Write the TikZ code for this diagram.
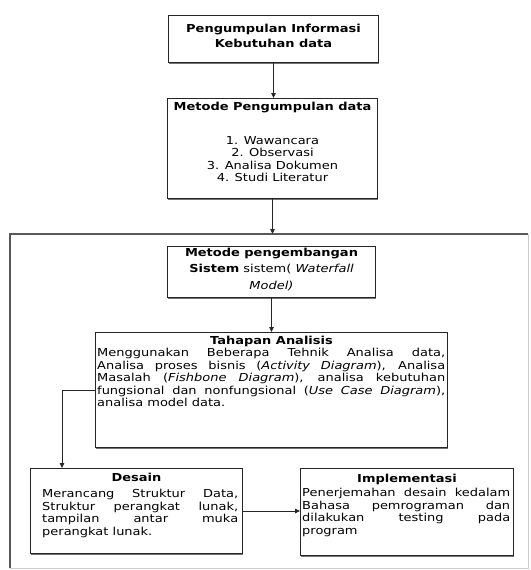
\documentclass[tikz,border=0pt]{standalone}
\usepackage{fontspec}
\setmainfont[FakeStretch=1.18]{DejaVu Sans}
\usetikzlibrary{arrows.meta,shadows}
\setlength\parindent{0pt}

\tikzset{
  box/.style={draw=black!85, line width=1pt, fill=white, inner sep=0pt,
    drop shadow={shadow xshift=0.4pt, shadow yshift=-1.6pt, fill=black!55, opacity=1}},
  txt/.style={inner sep=0pt, font=\fontsize{11}{12.5}\selectfont},
  arr/.style={draw=black!85, line width=0.8pt, -{Triangle[length=5pt,width=4.5pt]}},
  frameline/.style={draw=black!65, line width=1.6pt},
}

\begin{document}
\begin{tikzpicture}[x=1pt,y=-1pt]
\useasboundingbox (0,0) rectangle (530,570);
\clip (0,0) rectangle (530,570);

% outer frame around the development stage
\node[inner sep=0pt, minimum width=518pt, minimum height=334pt, anchor=north west] (frame) at (10,234) {};
\draw[frameline] (frame.south west) -- (frame.north west) -- (frame.north east);
\draw[draw=black!20, line width=0.8pt] (frame.north east) -- (frame.south east) -- (frame.south west);

% boxes
\node[box, minimum width=210pt, minimum height=47pt, anchor=north west] (b1) at (168,15) {};
\node[box, minimum width=210pt, minimum height=100pt, anchor=north west] (b2) at (167,98) {};
\node[box, minimum width=208pt, minimum height=51pt, anchor=north west] (b3) at (167,246) {};
\node[box, minimum width=352pt, minimum height=115pt, anchor=north west] (b4) at (95,332) {};
\node[box, minimum width=212pt, minimum height=85pt, anchor=north west] (desain) at (30,468) {};
\node[box, minimum width=213pt, minimum height=87pt, anchor=north west] (impl) at (300,468) {};

% texts
\node[txt, anchor=north, align=center, font=\fontsize{11}{15}\selectfont\bfseries] (t1) at ([yshift=-8.5pt]b1.north)
  {Pengumpulan Informasi\\Kebutuhan data};

\node[txt, anchor=north, font=\fontsize{11}{12.5}\selectfont\bfseries] (t2) at ([yshift=-4pt]b2.north)
  {Metode Pengumpulan data};
\node[txt, anchor=north, align=center] (t2b) at ([yshift=-38pt]b2.north)
  {1. Wawancara\\2. Observasi\\3. Analisa Dokumen\\4. Studi Literatur};

\node[txt, anchor=north, align=center, font=\fontsize{11}{16.5}\selectfont] (t3) at ([yshift=-1.5pt]b3.north)
  {\textbf{Metode pengembangan}\\\textbf{Sistem} sistem( \textit{Waterfall}\\\textit{Model)}};

\node[txt, anchor=north, font=\fontsize{11}{12.5}\selectfont\bfseries] (t4) at ([yshift=-3.5pt]b4.north)
  {Tahapan Analisis};
\node[txt, anchor=north west, text width=348pt, align=justify] (t4b) at ([xshift=2pt,yshift=-16pt]b4.north west)
  {Menggunakan Beberapa Tehnik Analisa data,\linebreak
   Analisa proses bisnis (\textit{Activity Diagram}), Analisa\linebreak
   Masalah (\textit{Fishbone Diagram}), analisa kebutuhan\linebreak
   fungsional dan nonfungsional (\textit{Use Case Diagram}),\linebreak
   analisa model data.};

\node[txt, anchor=north, font=\fontsize{11}{12.5}\selectfont\bfseries] (t5) at ([yshift=-5pt]desain.north)
  {Desain};
\node[txt, anchor=north west, text width=196pt, align=justify] (t5b) at ([xshift=12pt,yshift=-21pt]desain.north west)
  {Merancang Struktur Data,\linebreak
   Struktur perangkat lunak,\linebreak
   tampilan antar muka\linebreak
   perangkat lunak.};

\node[txt, anchor=north, font=\fontsize{11}{12.5}\selectfont\bfseries] (t6) at ([yshift=-6pt]impl.north)
  {Implementasi};
\node[txt, anchor=north west, text width=208pt, align=justify] (t6b) at ([xshift=2pt,yshift=-20pt]impl.north west)
  {Penerjemahan desain kedalam\linebreak
   Bahasa pemrograman dan\linebreak
   dilakukan testing pada\linebreak
   program};

% connectors
\draw[arr] (b1.south) -- (b1.south |- b2.north);
\draw[arr] (b2.south) -- (b2.south |- frame.north);
\draw[arr] (b3.south) -- (b3.south |- b4.north);
\draw[arr] (b4.west) -| ([xshift=32pt]desain.north west);
\draw[arr] (desain.east) -- (desain.east -| impl.west);
\end{tikzpicture}
\end{document}
